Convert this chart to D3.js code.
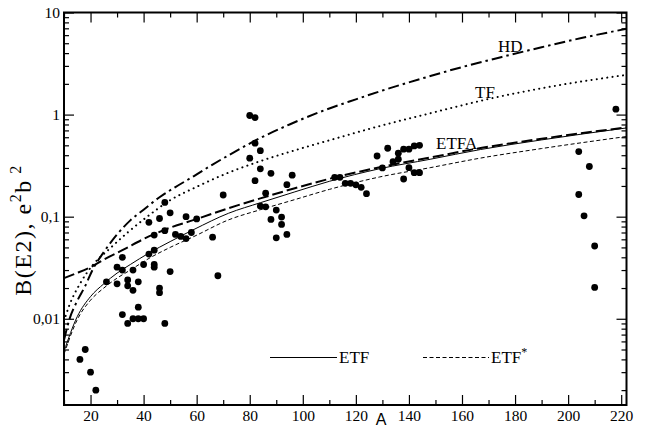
<!DOCTYPE html>
<html>
<head>
<meta charset="utf-8">
<script src="https://cdn.jsdelivr.net/npm/d3@7"></script>
<style>
  body { margin: 0; background: #fff; }
  svg { display: block; }
  text { font-family: "Liberation Serif", "Times New Roman", serif; fill: #000; }
</style>
</head>
<body>
<svg id="chart" width="658" height="430"></svg>
<script>
// Measured B(E2) values versus mass number A
const expA = [16, 18, 20, 22,
  26, 30, 30, 32, 32, 34, 34, 36, 36, 38, 40, 42, 44, 44, 46, 46, 50,
  32, 34, 36, 38, 40, 38, 48,
  80, 82, 82, 84, 80, 84, 82, 70, 84, 48, 50, 46, 56, 60, 42, 44, 48, 52, 54, 56, 58, 66, 44, 68,
  88, 96, 94, 86, 86, 90, 88, 92, 92, 90, 94,
  112, 114, 116, 118, 120, 122, 124,
  128, 132, 130, 134, 136, 136, 138, 140, 142, 144, 140, 138, 142, 144,
  218, 204, 208, 204, 206, 210, 210];
const expB = [0.004, 0.005, 0.003, 0.002,
  0.023, 0.022, 0.032, 0.040, 0.030, 0.024, 0.021, 0.030, 0.019, 0.023, 0.034, 0.043, 0.034, 0.032, 0.020, 0.018, 0.029,
  0.011, 0.009, 0.010, 0.010, 0.010, 0.013, 0.009,
  0.98, 0.935, 0.525, 0.443, 0.374, 0.294, 0.225, 0.163, 0.127, 0.138, 0.109, 0.096, 0.100, 0.095, 0.088, 0.066, 0.073, 0.067, 0.064, 0.061, 0.070, 0.063, 0.047, 0.0264,
  0.266, 0.255, 0.206, 0.170, 0.125, 0.116, 0.094, 0.099, 0.084, 0.062, 0.067,
  0.243, 0.243, 0.212, 0.212, 0.205, 0.194, 0.168,
  0.393, 0.468, 0.300, 0.346, 0.366, 0.419, 0.458, 0.458, 0.493, 0.500, 0.302, 0.234, 0.270, 0.270,
  1.13, 0.434, 0.310, 0.165, 0.102, 0.0516, 0.0203];

// Model curves (A, B(E2))
const hdA = [10, 12, 15, 18, 21, 25, 30, 35, 40, 46, 52, 59, 66, 74, 84, 95, 108, 120, 130, 145, 160, 175, 190, 205, 222];
const hdB = [0.0062, 0.0098, 0.015, 0.021, 0.031, 0.045, 0.067, 0.092, 0.117, 0.155, 0.195, 0.25, 0.324, 0.427, 0.59, 0.80, 1.10, 1.41, 1.72, 2.26, 2.92, 3.67, 4.57, 5.62, 6.92];

const tfA = [10, 12, 16, 21, 27, 34, 42, 50, 60, 72, 84, 98, 110, 128, 148, 172, 196, 222];
const tfB = [0.0095, 0.0135, 0.022, 0.034, 0.048, 0.070, 0.103, 0.145, 0.196, 0.27, 0.35, 0.455, 0.56, 0.76, 1.03, 1.46, 1.93, 2.45];

const etfaA = [10, 14, 20, 25, 32, 42, 50, 59, 72, 84, 97, 110, 129, 148, 167, 190, 222];
const etfaB = [0.025, 0.0275, 0.032, 0.038, 0.047, 0.064, 0.078, 0.093, 0.121, 0.151, 0.19, 0.235, 0.305, 0.38, 0.47, 0.58, 0.75];

const etfA = [10, 15, 20, 25, 30, 35, 42, 50, 59, 72, 84, 97, 110, 129, 148, 167, 190, 222];
const etfB = [0.0048, 0.0105, 0.0165, 0.022, 0.028, 0.034, 0.044, 0.057, 0.075, 0.108, 0.137, 0.175, 0.222, 0.295, 0.365, 0.455, 0.565, 0.74];

const etfsA = [10, 15, 20, 25, 30, 35, 42, 50, 59, 72, 84, 97, 110, 129, 148, 167, 190, 222];
const etfsB = [0.0045, 0.0098, 0.0152, 0.020, 0.025, 0.030, 0.039, 0.050, 0.064, 0.093, 0.117, 0.147, 0.185, 0.245, 0.302, 0.375, 0.465, 0.61];

const xMajor = [20, 40, 60, 80, 100, 120, 140, 160, 180, 200, 220];
const xMinor = [10, 30, 50, 70, 90, 110, 130, 150, 170, 190, 210];
const yMajor = [0.01, 0.1, 1, 10];
const yMajorLabels = ["0,01", "0,1", "1", "10"];

const svg = d3.select("#chart");
const m = { left: 64, right: 626.5, top: 12.5, bottom: 405 };

const x = d3.scaleLinear().domain([10, 222]).range([m.left, m.right]);
const y = d3.scaleLog().domain([0.00143, 10]).range([m.bottom, m.top]);

// minor log ticks 2..9 per decade
const yMinor = [];
[0.001, 0.01, 0.1, 1].forEach(d => {
  for (let k = 2; k <= 9; k++) {
    const v = +(d * k).toPrecision(3);
    if (v >= y.domain()[0] && v <= 10) yMinor.push(v);
  }
});

svg.append("defs").append("clipPath").attr("id", "plotclip")
  .append("rect").attr("x", m.left).attr("y", m.top)
  .attr("width", m.right - m.left).attr("height", m.bottom - m.top);

// curves
const lineOf = (xs, ys) => d3.line()
  .x((d, i) => x(xs[i])).y((d, i) => y(ys[i]))
  .curve(d3.curveMonotoneX)(xs);

const curves = svg.append("g").attr("clip-path", "url(#plotclip)").attr("fill", "none").attr("stroke", "#000");
curves.append("path").attr("d", lineOf(hdA, hdB))
  .attr("stroke-width", 2).attr("stroke-dasharray", "11,4,2.5,4");
curves.append("path").attr("d", lineOf(tfA, tfB))
  .attr("stroke-width", 2).attr("stroke-linecap", "round").attr("stroke-dasharray", "0.1,5.2");
curves.append("path").attr("d", lineOf(etfaA, etfaB))
  .attr("stroke-width", 2).attr("stroke-dasharray", "11,4");
curves.append("path").attr("d", lineOf(etfA, etfB))
  .attr("stroke-width", 1);
curves.append("path").attr("d", lineOf(etfsA, etfsB))
  .attr("stroke-width", 1).attr("stroke-dasharray", "4,2.5");

// data points
svg.append("g").selectAll("circle").data(expA).join("circle")
  .attr("cx", (d, i) => x(expA[i]))
  .attr("cy", (d, i) => y(expB[i]))
  .attr("r", 3.4).attr("fill", "#000");

// axes: ticks point inward on all four sides
function styleAxis(g) {
  g.select(".domain").remove();
  g.selectAll(".tick line").attr("stroke", "#000").attr("stroke-width", 1.2);
  g.selectAll("text").style("font-family", "Liberation Serif").style("font-size", "15.5px");
}
svg.append("g").attr("transform", `translate(0,${m.bottom})`)
  .call(d3.axisBottom(x).tickValues(xMajor).tickSize(-10).tickPadding(5).tickFormat(d3.format("d")))
  .call(styleAxis);
svg.append("g").attr("transform", `translate(0,${m.bottom})`)
  .call(d3.axisBottom(x).tickValues(xMinor).tickSize(-5).tickFormat(""))
  .call(styleAxis);
svg.append("g").attr("transform", `translate(0,${m.top})`)
  .call(d3.axisTop(x).tickValues(xMajor).tickSize(-10).tickFormat(""))
  .call(styleAxis);
svg.append("g").attr("transform", `translate(0,${m.top})`)
  .call(d3.axisTop(x).tickValues(xMinor).tickSize(-5).tickFormat(""))
  .call(styleAxis);

svg.append("g").attr("transform", `translate(${m.left},0)`)
  .call(d3.axisLeft(y).tickValues(yMajor).tickSize(-10).tickPadding(4)
    .tickFormat((d, i) => yMajorLabels[i]))
  .call(styleAxis);
svg.append("g").attr("transform", `translate(${m.left},0)`)
  .call(d3.axisLeft(y).tickValues(yMinor).tickSize(-5).tickFormat(""))
  .call(styleAxis);
svg.append("g").attr("transform", `translate(${m.right},0)`)
  .call(d3.axisRight(y).tickValues(yMajor).tickSize(-10).tickFormat(""))
  .call(styleAxis);
svg.append("g").attr("transform", `translate(${m.right},0)`)
  .call(d3.axisRight(y).tickValues(yMinor).tickSize(-5).tickFormat(""))
  .call(styleAxis);

// frame
svg.append("rect").attr("x", m.left).attr("y", m.top)
  .attr("width", m.right - m.left).attr("height", m.bottom - m.top)
  .attr("fill", "none").attr("stroke", "#000").attr("stroke-width", 2);

// axis titles
svg.append("text").attr("x", x(129.5)).attr("y", 425)
  .attr("text-anchor", "middle").style("font-family", "Liberation Sans")
  .style("font-size", "16px").text("A");

const yt = svg.append("text")
  .attr("transform", `translate(31,230) rotate(-90)`)
  .attr("text-anchor", "middle").style("font-size", "24px").style("letter-spacing", "1.5px");
yt.append("tspan").text("B(E2),  e");
yt.append("tspan").attr("dy", -10).style("font-size", "16px").text("2");
yt.append("tspan").attr("dy", 10).text("b");
yt.append("tspan").attr("dy", -10).style("font-size", "16px").text(" 2");

// curve labels
const lab = svg.append("g").style("font-size", "17px");
lab.append("text").attr("x", 498).attr("y", 52).text("HD");
lab.append("text").attr("x", 475).attr("y", 98).text("TF");
lab.append("text").attr("x", 436).attr("y", 149).text("ETFA");

// legend
const leg = svg.append("g");
leg.append("line").attr("x1", 270).attr("x2", 337).attr("y1", 357.5).attr("y2", 357.5)
  .attr("stroke", "#000").attr("stroke-width", 1);
leg.append("text").attr("x", 339).attr("y", 363).style("font-size", "17px").text("ETF");
leg.append("line").attr("x1", 423).attr("x2", 489).attr("y1", 357.5).attr("y2", 357.5)
  .attr("stroke", "#000").attr("stroke-width", 1).attr("stroke-dasharray", "4,2.5");
const ls = leg.append("text").attr("x", 491).attr("y", 363).style("font-size", "17px");
ls.append("tspan").text("ETF");
ls.append("tspan").attr("dy", -7).style("font-size", "12px").text("*");
</script>
</body>
</html>
